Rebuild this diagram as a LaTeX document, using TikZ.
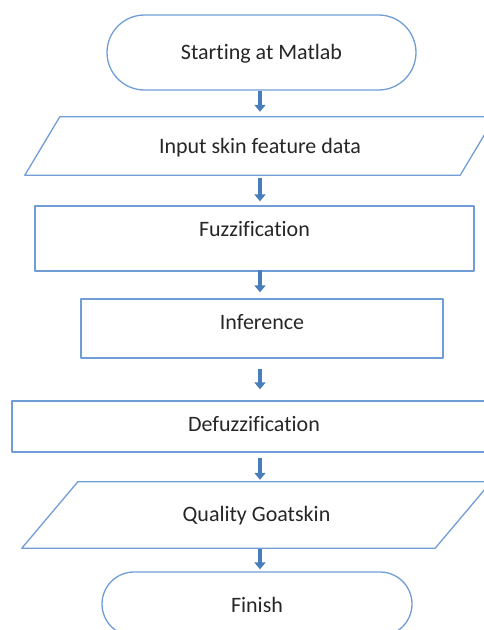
\documentclass[tikz,border=0pt]{standalone}
\usepackage{fontspec}
\setmainfont{Carlito}[Ligatures=NoCommon]
\usetikzlibrary{shapes.misc,arrows.meta}
\definecolor{boxline}{RGB}{112,157,214}
\definecolor{arrowblue}{RGB}{74,126,187}

\begin{document}
\begin{tikzpicture}[x=1pt,y=-1pt,
    every node/.style={font=\fontsize{22}{26}\selectfont, text=black!85},
    outline/.style={draw=boxline, line width=1.3pt, line join=round},
    terminal/.style={outline, rounded rectangle, inner sep=0pt},
    process/.style={outline, rectangle, inner sep=0pt},
    inout/.style={rectangle, inner sep=0pt},
    flow/.style={draw=arrowblue, line width=4pt, -{Triangle[width=11pt,length=7pt]}}
]
    % Page
    \useasboundingbox (0,0) rectangle (484,630);
    \clip (0,0) rectangle (484,630);
    \coordinate (axis) at (260,0);

    % Start and input
    \node[terminal, minimum width=309pt, minimum height=75pt,
          label={[yshift=-1pt]center:Starting at Matlab}] (start) at (261.5,52.5) {};
    \node[inout, minimum width=435pt, minimum height=58pt,
          label={[yshift=-2pt]center:Input skin feature data}] (input) at (260,146) {};
    \draw[outline] ([xshift=-17.5pt]input.south west) -- ([xshift=17.5pt]input.north west)
        -- ([xshift=17.5pt]input.north east) -- ([xshift=-17.5pt]input.south east) -- cycle;

    % Fuzzy steps
    \node[process, minimum width=439pt, minimum height=65pt,
          label={[yshift=9pt]center:Fuzzification}] (fuzz) at (254.5,238.5) {};
    \node[process, minimum width=362pt, minimum height=59pt,
          label={[yshift=6pt]center:Inference}] (infer) at (262,328.5) {};
    \node[process, minimum width=484pt, minimum height=51pt,
          label={[yshift=2pt]center:Defuzzification}] (defuzz) at (254,426.5) {};

    % Output and end
    \node[inout, minimum width=413pt, minimum height=66pt,
          label={[yshift=-1pt]center:Quality Goatskin}] (quality) at (256.5,515) {};
    \draw[outline] ([xshift=-28pt]quality.south west) -- ([xshift=28pt]quality.north west)
        -- ([xshift=28pt]quality.north east) -- ([xshift=-28pt]quality.south east) -- cycle;
    \node[terminal, minimum width=310pt, minimum height=64pt,
          label={[yshift=-1pt]center:Finish}] (finish) at (257,604) {};

    % Arrows
    \foreach \a/\b/\s/\e in {start/input/0/5, input/fuzz/3/4, fuzz/infer/-2/6,
                             infer/defuzz/10/11, defuzz/quality/5/2, quality/finish/1/2} {
        \draw[flow, shorten <=\s pt, shorten >=\e pt] (\a.south -| axis) -- (\b.north -| axis);
    }
\end{tikzpicture}
\end{document}
